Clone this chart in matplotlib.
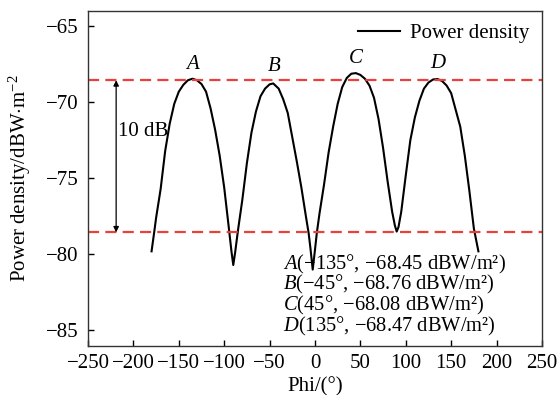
import matplotlib
matplotlib.use("Agg")
import matplotlib.pyplot as plt

plt.rcParams['font.family'] = ['Liberation Serif', 'DejaVu Serif']
plt.rcParams['mathtext.fontset'] = 'custom'
plt.rcParams['mathtext.rm'] = 'Liberation Serif'
plt.rcParams['mathtext.it'] = 'Liberation Serif:italic'

# angle (deg) and power density (dBW/m^2)
phi = [-180, -177, -175, -170, -165, -160, -155, -150, -145, -140, -135, -130, -125,
       -120, -115, -110, -105, -100, -95, -92, -90, -88, -85, -80, -75, -70, -65,
       -60, -55, -50, -46, -40, -35, -30, -25, -20, -15, -10, -7, -5, -2.5, 0, 2,
       5, 10, 15, 20, 25, 30, 35, 40, 45, 50, 55, 60, 65, 70, 75, 80, 85, 88, 90,
       92, 95, 100, 105, 110, 115, 120, 125, 130, 135, 140, 145, 150, 155, 160,
       165, 170, 175, 180]
power = [-79.8, -78.5, -77.6, -75.7, -73.2, -71.4, -70.1, -69.3, -68.85, -68.55,
         -68.45, -68.55, -68.8, -69.3, -70.4, -71.8, -73.5, -75.6, -78.2, -79.8,
         -80.7, -79.9, -78.5, -76.4, -74.0, -72.0, -70.6, -69.6, -69.1, -68.82,
         -68.76, -69.1, -69.8, -70.7, -72.3, -73.9, -75.6, -77.5, -78.6, -79.6,
         -81.0, -79.7, -78.6, -77.3, -75.4, -73.3, -71.6, -70.1, -69.0, -68.4,
         -68.12, -68.08, -68.2, -68.45, -68.9, -69.7, -71.1, -73.0, -75.2, -77.2,
         -78.1, -78.5, -78.2, -77.2, -74.8, -72.5, -71.0, -69.9, -69.1, -68.7,
         -68.5, -68.47, -68.6, -68.9, -69.4, -70.5, -71.6, -73.5, -75.8, -78.3,
         -79.8]

peak_names = ['A', 'B', 'C', 'D']
peak_phi = [-135, -45, 45, 135]
peak_val = [-68.45, -68.76, -68.08, -68.47]
label_y = [-67.78, -67.96, -67.41, -67.74]

ref_high = -68.55
ref_low = -78.55

fig = plt.figure(figsize=(5.57, 3.95), dpi=100)
ax = fig.add_axes([0.158, 0.125, 0.815, 0.847])

ax.plot(phi, power, color='black', lw=1.5, label='Power density')
ax.axhline(ref_high, color='#e8413c', lw=1.6, ls=(0, (5, 2.8)))
ax.axhline(ref_low, color='#e8413c', lw=1.6, ls=(0, (5, 2.8)))

ax.annotate('', xy=(-219, ref_high), xytext=(-219, ref_low),
            arrowprops=dict(arrowstyle='<|-|>', color='black', lw=0.9,
                            shrinkA=0, shrinkB=0, mutation_scale=8))
ax.text(-217, -71.9, '10 dB', fontsize=15, va='center', ha='left')

for name, x, y in zip(peak_names, peak_phi, label_y):
    ax.text(x, y, name, fontsize=15, style='italic', ha='center', va='baseline')

# coordinates of the peaks, one line each
lines = []
for name, x, v in zip(peak_names, peak_phi, peak_val):
    lines.append(r'$\mathit{%s}$(%s%d°, −%.2f dBW/m²)' %
                 (name, '−' if x < 0 else '', abs(x), abs(v)))
ax.text(-35, -85.07, '\n'.join(lines), fontsize=14.8, ha='left',
        va='baseline', linespacing=0.865)

ax.set_xlim(-250, 250)
ax.set_ylim(-86, -64)
ax.set_xticks(range(-250, 251, 50))
ax.set_yticks([-85, -80, -75, -70, -65])
ax.tick_params(direction='in', length=4, labelsize=15, width=1)
ax.tick_params(axis='y', pad=7)
ax.tick_params(axis='x', pad=6)
for s in ax.spines.values():
    s.set_linewidth(1)
    s.set_color('#333333')

ax.set_xlabel('Phi/(°)', fontsize=15, labelpad=3)
ax.set_ylabel(r'Power density/dBW$\cdot$m$^{-2}$', fontsize=15, labelpad=9)

ax.legend(loc='upper right', frameon=False, fontsize=15, handlelength=2.0,
          handletextpad=0.5, borderaxespad=0.2)

fig.savefig('out.png', dpi=100)
